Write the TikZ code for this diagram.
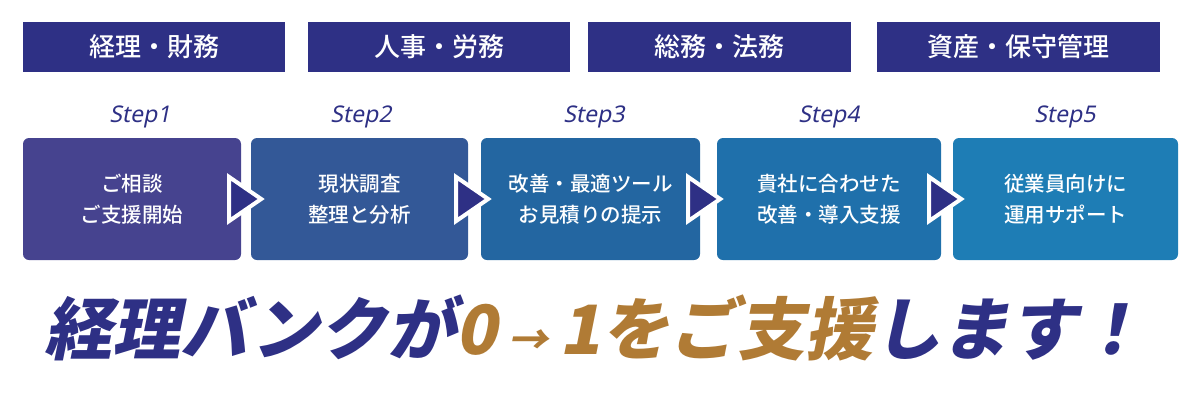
\documentclass[tikz,border=0pt]{standalone}
\usepackage{fontspec}
\newfontfamily\cjk{Noto Sans CJK JP}
\newfontfamily\cjkm{Noto Sans CJK JP Medium}
\newfontfamily\latb{Noto Sans}
\usetikzlibrary{calc}
\definecolor{navy}{HTML}{2E3085}
\definecolor{gold}{HTML}{B07B35}
\definecolor{cA}{HTML}{46438F}
\definecolor{cB}{HTML}{335897}
\definecolor{cC}{HTML}{2366A1}
\definecolor{cD}{HTML}{1F70AB}
\definecolor{cE}{HTML}{1E7DB5}
\tikzset{
 hdr/.style={fill=navy,text=white,minimum height=50pt,inner sep=0pt,font=\cjkm\fontsize{26}{28}\selectfont},
 stepbox/.style={rounded corners=6pt,minimum height=122pt,inner sep=0pt,text=white,align=center,font=\cjkm\fontsize{20.5}{31}\selectfont},
 steplbl/.style={text=navy,xslant=0.2,font=\latb\bfseries\fontsize{23}{26}\selectfont},
 tri/.style={fill=navy,draw=white,line width=4pt,line join=miter}
}
\begin{document}
\begin{tikzpicture}[x=1pt,y=-1pt]
\useasboundingbox (0,0) rectangle (1200,400);
\node[hdr,minimum width=262pt] (h1) at (154,47) {経理・財務};
\node[hdr,minimum width=262pt] (h2) at (439,47) {人事・労務};
\node[hdr,minimum width=263pt] (h3) at (719.5,47) {総務・法務};
\node[hdr,minimum width=283pt] (h4) at (1018.5,47) {資産・保守管理};
\node[steplbl] (s1) at (141,117) {Step1};
\node[steplbl] (s2) at (362,117) {Step2};
\node[steplbl] (s3) at (595,117) {Step3};
\node[steplbl] (s4) at (830,117) {Step4};
\node[steplbl] (s5) at (1066,117) {Step5};
\node[stepbox,fill=cA,minimum width=218pt] (b1) at (132,199) {ご相談\\ご支援開始};
\node[stepbox,fill=cB,minimum width=217pt] (b2) at (359.5,199) {現状調査\\整理と分析};
\node[stepbox,fill=cC,minimum width=219pt] (b3) at (590.5,199) {改善・最適ツール\\お見積りの提示};
\node[stepbox,fill=cD,minimum width=224pt] (b4) at (829,199) {貴社に合わせた\\改善・導入支援};
\node[stepbox,fill=cE,minimum width=225pt] (b5) at (1065.5,199) {従業員向けに\\運用サポート};
\foreach \a in {b1,b2,b3,b4}{
 \path[tri] ($(\a.east)+(-12,-22)$) -- ($(\a.east)+(20,0)$) -- ($(\a.east)+(-12,22)$) -- cycle;
}
\node[font=\cjk\bfseries\fontsize{68}{72}\selectfont,xslant=0.2,inner sep=0pt] (tag) at (600,328)
 {\textcolor{navy}{経理バンクが}\textcolor{gold}{0\,{\fontsize{40}{40}\selectfont→}\,1をご支援}\textcolor{navy}{します！}};
\end{tikzpicture}
\end{document}
